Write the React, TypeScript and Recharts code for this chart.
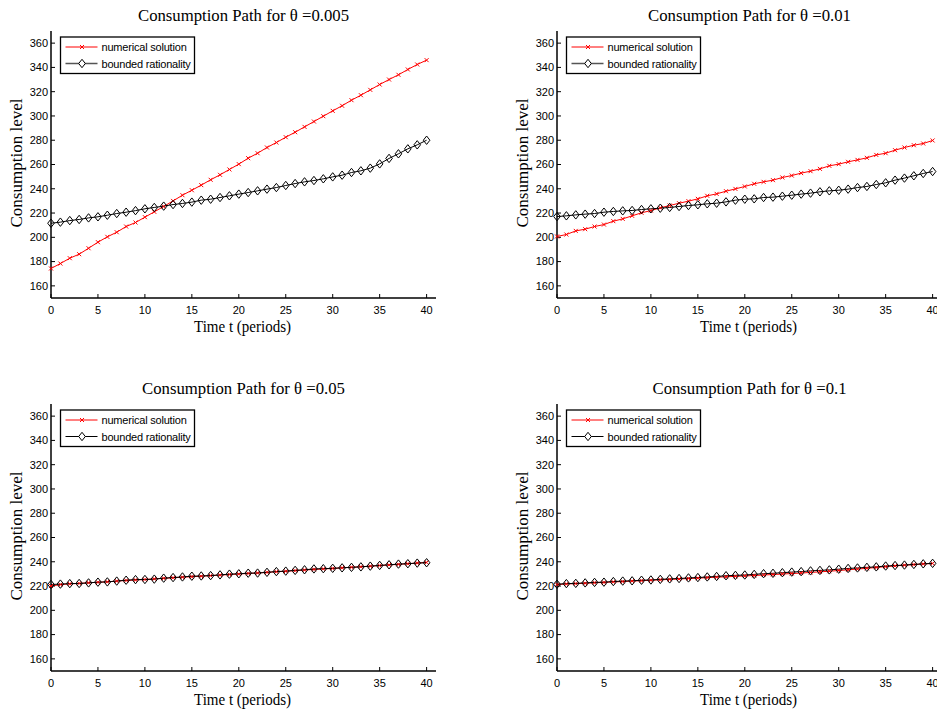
import React from "react";
import { LineChart, Line, XAxis, YAxis } from "recharts";

const time = [
  0, 1, 2, 3, 4, 5, 6, 7, 8, 9, 10, 11, 12, 13, 14, 15, 16, 17, 18, 19, 20,
  21, 22, 23, 24, 25, 26, 27, 28, 29, 30, 31, 32, 33, 34, 35, 36, 37, 38, 39, 40,
];
const xTicks = [0, 5, 10, 15, 20, 25, 30, 35, 40];
const yTicks = [160, 180, 200, 220, 240, 260, 280, 300, 320, 340, 360];

// theta = 0.005
const numerical005 = [
  174.3, 178.4, 182.8, 186.1, 191.0, 196.0, 200.4, 204.2, 208.9, 212.2, 216.6,
  221.0, 225.4, 230.0, 234.7, 238.8, 243.0, 247.4, 251.5, 255.9, 260.3, 265.2,
  269.3, 274.0, 278.1, 282.5, 286.6, 291.0, 295.4, 299.8, 304.2, 308.4, 313.0,
  317.1, 321.5, 325.9, 330.0, 333.9, 338.3, 342.4, 346.0,
];
const bounded005 = [
  211.6, 212.5, 213.8, 214.7, 216.0, 216.9, 218.2, 219.6, 220.7, 222.0, 223.5,
  224.6, 225.7, 227.0, 227.9, 229.0, 230.6, 231.4, 232.8, 234.2, 235.6, 236.9,
  238.3, 239.7, 241.0, 242.7, 244.3, 245.7, 246.8, 248.2, 249.8, 251.2, 253.4,
  254.8, 257.0, 260.5, 265.0, 268.8, 272.9, 276.2, 280.0,
];

// theta = 0.01
const numerical001 = [
  200.7, 202.3, 205.3, 206.7, 208.9, 210.5, 213.3, 215.2, 217.7, 220.2, 222.0,
  224.3, 226.2, 228.1, 229.8, 231.7, 234.2, 235.8, 238.0, 239.9, 241.9, 244.1,
  245.7, 247.1, 249.3, 250.9, 252.9, 254.5, 256.4, 258.9, 260.3, 262.2, 263.8,
  265.5, 267.9, 269.3, 271.8, 274.0, 275.9, 277.3, 279.8,
];
const bounded001 = [
  217.1, 217.7, 218.5, 219.1, 219.6, 220.7, 221.3, 221.8, 222.1, 222.9, 223.5,
  224.0, 224.6, 225.4, 226.2, 226.8, 227.6, 228.1, 229.2, 230.6, 231.4, 231.7,
  232.8, 233.1, 233.9, 234.7, 235.6, 236.4, 237.5, 238.3, 238.8, 239.7, 241.0,
  241.9, 243.5, 244.9, 247.1, 248.8, 250.7, 252.6, 254.2,
];

// theta = 0.05
const numerical05 = [
  220.0, 221.2, 221.8, 222.2, 222.7, 223.1, 223.5, 224.1, 224.6, 225.0, 225.4,
  225.9, 226.4, 226.8, 227.3, 227.7, 228.1, 228.6, 229.0, 229.5, 229.9, 230.4,
  230.8, 231.3, 231.8, 232.2, 232.7, 233.2, 233.7, 234.1, 234.5, 235.0, 235.5,
  235.9, 236.4, 236.9, 237.4, 237.9, 238.4, 239.0, 239.5,
];
const bounded05 = [
  221.3, 221.6, 222.0, 222.1, 222.6, 223.2, 223.4, 224.1, 224.8, 225.3, 225.4,
  225.7, 226.5, 227.0, 227.5, 228.1, 228.3, 228.6, 229.2, 229.8, 230.1, 230.6,
  230.7, 231.3, 231.9, 232.3, 232.9, 233.4, 234.1, 234.3, 234.6, 235.0, 235.4,
  235.8, 236.4, 237.0, 237.5, 238.1, 238.4, 238.9, 239.2,
];

// theta = 0.1
const numerical1 = [
  221.2, 221.7, 222.0, 222.3, 222.7, 223.0, 223.4, 223.7, 224.1, 224.4, 224.8,
  225.1, 225.5, 225.8, 226.2, 226.5, 226.9, 227.3, 227.6, 228.0, 228.3, 228.7,
  229.1, 229.5, 229.9, 230.3, 230.7, 231.2, 231.7, 232.2, 232.8, 233.4, 234.0,
  234.6, 235.3, 236.0, 236.6, 237.2, 237.7, 238.2, 238.6,
];
const bounded1 = [
  221.5, 222.0, 222.2, 222.6, 223.0, 223.2, 223.7, 224.1, 224.3, 224.8, 225.0,
  225.5, 225.9, 226.2, 226.7, 227.0, 227.5, 227.9, 228.5, 228.8, 229.1, 229.6,
  230.2, 230.5, 231.0, 231.5, 231.9, 232.5, 232.9, 233.3, 233.9, 234.5, 234.9,
  235.4, 235.8, 236.5, 236.9, 237.3, 237.8, 238.3, 238.7,
];

const panels = [
  { title: "Consumption Path for θ =0.005", titleWidth: 211, numerical: numerical005, bounded: bounded005, plotLeft: 51, plotTop: 31, grayLegend: true },
  { title: "Consumption Path for θ =0.01", titleWidth: 203, numerical: numerical001, bounded: bounded001, plotLeft: 557, plotTop: 31, grayLegend: true },
  { title: "Consumption Path for θ =0.05", titleWidth: 203, numerical: numerical05, bounded: bounded05, plotLeft: 51, plotTop: 404, grayLegend: false },
  { title: "Consumption Path for θ =0.1", titleWidth: 194, numerical: numerical1, bounded: bounded1, plotLeft: 557, plotTop: 404, grayLegend: false },
];

const PW = 385;
const PH = 267;
const serif = "'Liberation Serif', 'Times New Roman', serif";
const sans = "'Liberation Sans', Arial, sans-serif";
const tickFont = { fontSize: 11, fontFamily: sans, fill: "#000" };
const axisLine = { stroke: "#000", strokeWidth: 1.5 };
const tickLine = { stroke: "#000", strokeWidth: 1 };
const blank = () => "";

const Cross = (props: any) => {
  const { cx, cy, index } = props;
  if (cx == null || cy == null) return <g key={`c-${index}`} />;
  const s = 2;
  return (
    <path
      key={`c-${index}`}
      d={`M${cx - s},${cy - s}L${cx + s},${cy + s}M${cx - s},${cy + s}L${cx + s},${cy - s}`}
      stroke="#ff0000"
      strokeWidth={1}
      fill="none"
    />
  );
};

const Diamond = (props: any) => {
  const { cx, cy, index } = props;
  if (cx == null || cy == null) return <g key={`d-${index}`} />;
  const w = 3.3;
  const h = 4.2;
  return (
    <path
      key={`d-${index}`}
      d={`M${cx},${cy - h}L${cx + w},${cy}L${cx},${cy + h}L${cx - w},${cy}Z`}
      stroke="#000"
      strokeWidth={1}
      fill="none"
    />
  );
};

function Panel({ numerical, bounded, plotLeft, plotTop }: any) {
  const rows = time.map((t, i) => ({ t, numerical: numerical[i], bounded: bounded[i] }));
  return (
    <div style={{ position: "absolute", left: plotLeft - 50, top: plotTop - 5 }}>
      <LineChart width={50 + PW + 5} height={5 + PH + 30} data={rows} margin={{ top: 5, right: 5, bottom: 0, left: 0 }}>
        <XAxis
          xAxisId="bottom"
          dataKey="t"
          type="number"
          domain={[0, 41]}
          ticks={xTicks}
          height={30}
          tickSize={-4}
          tickMargin={12}
          tick={tickFont}
          axisLine={axisLine}
          tickLine={tickLine}
        />
        <XAxis
          xAxisId="top"
          orientation="top"
          dataKey="t"
          type="number"
          domain={[0, 41]}
          ticks={xTicks}
          height={0}
          tickSize={-4}
          tickFormatter={blank}
          tick={tickFont}
          axisLine={axisLine}
          tickLine={tickLine}
        />
        <YAxis
          yAxisId="left"
          type="number"
          domain={[150, 370]}
          ticks={yTicks}
          width={50}
          tickSize={-4}
          tickMargin={7}
          tick={tickFont}
          axisLine={axisLine}
          tickLine={tickLine}
        />
        <YAxis
          yAxisId="right"
          orientation="right"
          type="number"
          domain={[150, 370]}
          ticks={yTicks}
          width={0}
          tickSize={-4}
          tickFormatter={blank}
          tick={tickFont}
          axisLine={axisLine}
          tickLine={tickLine}
        />
        <Line
          xAxisId="bottom"
          yAxisId="left"
          dataKey="numerical"
          name="numerical solution"
          stroke="#ff0000"
          strokeWidth={1}
          dot={Cross}
          activeDot={false}
          isAnimationActive={false}
        />
        <Line
          xAxisId="bottom"
          yAxisId="left"
          dataKey="bounded"
          name="bounded rationality"
          stroke="#000"
          strokeWidth={1}
          dot={Diamond}
          activeDot={false}
          isAnimationActive={false}
        />
      </LineChart>
    </div>
  );
}

function Labels({ title, titleWidth, plotLeft, plotTop, grayLegend }: any) {
  const bx = plotLeft + 9.5;
  const by = plotTop + 6;
  const r1 = by + 10;
  const r2 = by + 26.5;
  const lineX1 = bx + 5;
  const lineX2 = bx + 37;
  const mx = bx + 21.5;
  const blackSample = grayLegend ? "#555" : "#000";
  return (
    <g>
      <text x={plotLeft + PW / 2} y={plotTop - 10.5} textAnchor="middle" fontFamily={serif} fontSize={17} textLength={titleWidth} lengthAdjust="spacingAndGlyphs">
        {title}
      </text>
      <text
        transform={`translate(${plotLeft - 29},${plotTop + 132}) rotate(-90)`}
        textAnchor="middle"
        fontFamily={serif}
        fontSize={17}
        textLength={129}
        lengthAdjust="spacingAndGlyphs"
      >
        Consumption level
      </text>
      <text x={plotLeft + 191.5} y={plotTop + PH + 34} textAnchor="middle" fontFamily={serif} fontSize={17} textLength={97} lengthAdjust="spacingAndGlyphs">
        Time t (periods)
      </text>
      <rect x={bx} y={by} width={134} height={36.5} fill="#fff" stroke="#000" strokeWidth={1.3} />
      <line x1={lineX1} y1={r1} x2={lineX2} y2={r1} stroke="#ff0000" strokeWidth={1} />
      <path d={`M${mx - 2},${r1 - 2}L${mx + 2},${r1 + 2}M${mx - 2},${r1 + 2}L${mx + 2},${r1 - 2}`} stroke="#ff0000" strokeWidth={1} />
      <line x1={lineX1} y1={r2} x2={lineX2} y2={r2} stroke={blackSample} strokeWidth={grayLegend ? 1.5 : 1} />
      <path d={`M${mx},${r2 - 4.2}L${mx + 3.3},${r2}L${mx},${r2 + 4.2}L${mx - 3.3},${r2}Z`} stroke="#000" strokeWidth={1} fill="#fff" />
      <text x={bx + 41} y={r1 + 4} fontFamily={sans} fontSize={11} letterSpacing={-0.2}>
        numerical solution
      </text>
      <text x={bx + 41} y={r2 + 4} fontFamily={sans} fontSize={11} letterSpacing={-0.2}>
        bounded rationality
      </text>
    </g>
  );
}

export default function App() {
  return (
    <div style={{ position: "absolute", left: 0, top: 0, width: 937, height: 715, overflow: "hidden", background: "#fff" }}>
      {panels.map((p) => (
        <Panel key={p.title} {...p} />
      ))}
      <svg width={937} height={715} style={{ position: "absolute", left: 0, top: 0, pointerEvents: "none" }}>
        {panels.map((p) => (
          <Labels key={p.title} {...p} />
        ))}
      </svg>
    </div>
  );
}
